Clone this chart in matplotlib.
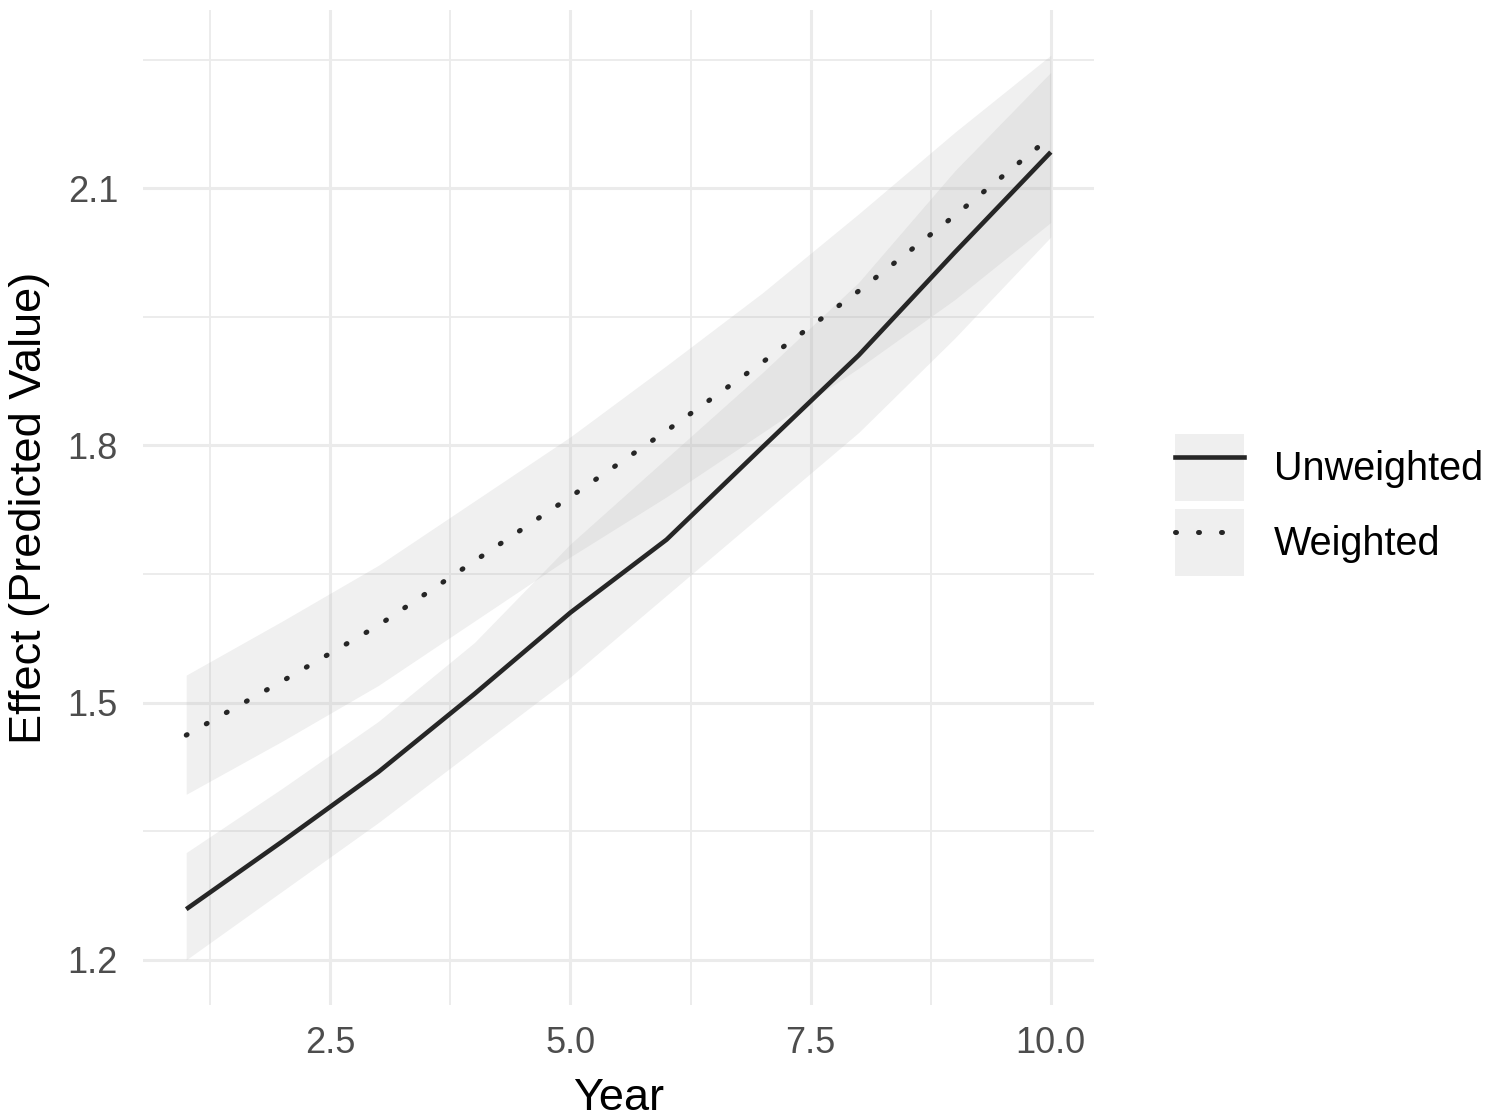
import numpy as np
import matplotlib.pyplot as plt
from matplotlib.patches import Patch
from matplotlib.lines import Line2D
from matplotlib.ticker import MultipleLocator, FormatStrFormatter

plt.rcParams['font.family'] = ['Liberation Sans', 'DejaVu Sans']

# data
years = [1, 2, 3, 4, 5, 6, 7, 8, 9, 10]

unw_fit = [1.259, 1.338, 1.419, 1.510, 1.605, 1.690, 1.798, 1.905, 2.025, 2.142]
unw_lo = [1.200, 1.280, 1.360, 1.445, 1.530, 1.625, 1.720, 1.815, 1.925, 2.043]
unw_hi = [1.325, 1.400, 1.478, 1.570, 1.685, 1.785, 1.885, 1.990, 2.120, 2.235]

w_fit = [1.462, 1.525, 1.590, 1.665, 1.740, 1.817, 1.897, 1.980, 2.068, 2.160]
w_lo = [1.393, 1.455, 1.520, 1.595, 1.670, 1.740, 1.815, 1.890, 1.970, 2.060]
w_hi = [1.532, 1.595, 1.660, 1.735, 1.810, 1.893, 1.978, 2.070, 2.165, 2.255]

labels = ['Unweighted', 'Weighted']

line_col = '#262626'
rib_col = '#b4b4b4'
rib_alpha = 0.2
grid_col = '#ebebeb'
solid_lw = 3.3
dot_lw = 3.6
dot_dash = (0.2, 4.4)

fig = plt.figure(figsize=(14.89, 11.18), dpi=100)
ax = fig.add_axes([143 / 1489, 1 - 1005 / 1118, (1094 - 143) / 1489, (1005 - 10) / 1118])

ax.fill_between(years, unw_lo, unw_hi, color=rib_col, alpha=rib_alpha, lw=0)
ax.fill_between(years, w_lo, w_hi, color=rib_col, alpha=rib_alpha, lw=0)
ax.plot(years, unw_fit, color=line_col, lw=solid_lw, solid_capstyle='butt')
ax.plot(years, w_fit, color=line_col, lw=dot_lw, dashes=dot_dash, dash_capstyle='round')

# ggplot style 5% expansion
x0, x1 = min(years), max(years)
y0 = min(unw_lo + w_lo)
y1 = max(unw_hi + w_hi)
ax.set_xlim(x0 - 0.05 * (x1 - x0), x1 + 0.05 * (x1 - x0))
ax.set_ylim(y0 - 0.05 * (y1 - y0), y1 + 0.05 * (y1 - y0))

ax.xaxis.set_major_locator(MultipleLocator(2.5))
ax.xaxis.set_minor_locator(MultipleLocator(1.25))
ax.set_yticks([1.2, 1.5, 1.8, 2.1])
ax.set_yticks([1.35, 1.65, 1.95, 2.25], minor=True)
ax.xaxis.set_major_formatter(FormatStrFormatter('%.1f'))
ax.yaxis.set_major_formatter(FormatStrFormatter('%.1f'))

ax.grid(True, which='major', color=grid_col, lw=2.2)
ax.grid(True, which='minor', color=grid_col, lw=1.3)
ax.set_axisbelow(True)
for s in ax.spines.values():
    s.set_visible(False)
ax.tick_params(which='both', length=0)
ax.tick_params(axis='x', labelsize=26, labelcolor='#4d4d4d', pad=15)
ax.tick_params(axis='y', labelsize=26, labelcolor='#4d4d4d', pad=18)

ax.set_xlabel('Year', fontsize=32.5, labelpad=12)
ax.set_ylabel('Effect (Predicted Value)', fontsize=32.5, labelpad=13)

key_bg = Patch(facecolor='#efefef', edgecolor='none')
h1 = (key_bg, Line2D([], [], color=line_col, lw=solid_lw))
h2 = (key_bg, Line2D([], [], color=line_col, lw=dot_lw, dashes=dot_dash, dash_capstyle='round'))
fig.legend([h1, h2], labels, loc='center left', bbox_to_anchor=(1175 / 1489, 1 - 505 / 1118),
           frameon=False, fontsize=28.5, handlelength=1.75, handleheight=2.2,
           handletextpad=0.75, labelspacing=0.22, borderpad=0, borderaxespad=0)

fig.savefig('out.png', dpi=100, facecolor='white')
